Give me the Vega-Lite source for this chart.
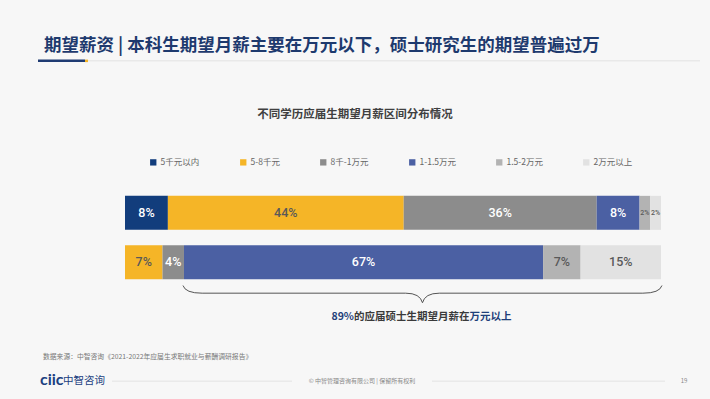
{
  "$schema": "https://vega.github.io/schema/vega-lite/v6.json",
  "width": 536,
  "height": 103,
  "autosize": {"type": "none"},
  "padding": {"left": 125, "top": 186, "right": 49, "bottom": 110},
  "background": "#f7f7f7",
  "config": {"view": {"stroke": null}, "font": "Noto Sans CJK SC"},
  "data": {"values": [
    {"edu": "本科生期望月薪", "cat": "5千元以内", "k": 1, "pct": 0.08},
    {"edu": "本科生期望月薪", "cat": "5-8千元", "k": 2, "pct": 0.44},
    {"edu": "本科生期望月薪", "cat": "8千-1万元", "k": 3, "pct": 0.36},
    {"edu": "本科生期望月薪", "cat": "1-1.5万元", "k": 4, "pct": 0.08},
    {"edu": "本科生期望月薪", "cat": "1.5-2万元", "k": 5, "pct": 0.02},
    {"edu": "本科生期望月薪", "cat": "2万元以上", "k": 6, "pct": 0.02},
    {"edu": "硕士生期望月薪", "cat": "5-8千元", "k": 2, "pct": 0.07},
    {"edu": "硕士生期望月薪", "cat": "8千-1万元", "k": 3, "pct": 0.04},
    {"edu": "硕士生期望月薪", "cat": "1-1.5万元", "k": 4, "pct": 0.67},
    {"edu": "硕士生期望月薪", "cat": "1.5-2万元", "k": 5, "pct": 0.07},
    {"edu": "硕士生期望月薪", "cat": "2万元以上", "k": 6, "pct": 0.15}
  ]},
  "layer": [
    {
      "mark": {"type": "bar"},
      "encoding": {
        "y": {"field": "edu", "type": "nominal", "sort": null, "title": null,
              "scale": {"paddingInner": 0.31, "paddingOuter": 0.2},
              "axis": {"domain": false, "ticks": false, "labelFontSize": 9, "labelColor": "#333333", "labelPadding": 10, "labelFont": "Noto Sans CJK SC", "labelFontWeight": 500}},
        "x": {"field": "pct", "type": "quantitative", "stack": "zero", "axis": null, "scale": {"domain": [0, 1], "nice": false, "zero": true}},
        "color": {"field": "cat", "type": "nominal",
          "scale": {"domain": ["5千元以内", "5-8千元", "8千-1万元", "1-1.5万元", "1.5-2万元", "2万元以上"],
                    "range": ["#123d7c", "#f5b527", "#8c8c8c", "#4b60a3", "#b3b3b3", "#e2e2e2"]},
          "legend": {"title": null, "orient": "none", "legendX": 24, "legendY": -28, "direction": "horizontal", "columns": 6,
                     "symbolType": "square", "symbolSize": 40, "symbolStrokeWidth": 0, "labelFontSize": 8.5, "labelColor": "#666666",
                     "labelOffset": 3, "columnPadding": 39, "padding": 0, "labelFont": "Noto Sans CJK SC"}},
        "order": {"field": "k", "type": "quantitative"}
      }
    },
    {
      "mark": {"type": "text", "font": "Roboto", "fontWeight": 500},
      "encoding": {
        "y": {"field": "edu", "type": "nominal", "sort": null, "title": null},
        "x": {"field": "pct", "type": "quantitative", "stack": "zero", "bandPosition": 0.5, "axis": null, "scale": {"domain": [0, 1], "nice": false, "zero": true}},
        "detail": {"field": "cat"},
        "order": {"field": "k", "type": "quantitative"},
        "text": {"field": "pct", "type": "quantitative", "format": ".0%"},
        "color": {"condition": {"test": "datum.cat == '5-8千元' || datum.cat == '1.5-2万元' || datum.cat == '2万元以上'", "value": "#595959"}, "value": "#ffffff"},
        "size": {"condition": {"test": "datum.pct < 0.03", "value": 7}, "value": 12.5}
      }
    },
    {
      "data": {"values": [{}]},
      "mark": {"type": "point", "shape": "M-1,-0.036 Q-0.99,-0.004 -0.92,-0.004 L-0.07,-0.004 Q-0.01,-0.004 0,0.036 Q0.01,-0.004 0.07,-0.004 L0.92,-0.004 Q0.99,-0.004 1,-0.036", "filled": false, "stroke": "#555555", "strokeWidth": 1, "opacity": 1, "size": 229441, "yOffset": 32},
      "encoding": {
        "x": {"datum": 0.555, "type": "quantitative", "axis": null, "scale": {"domain": [0, 1], "nice": false, "zero": true}},
        "y": {"datum": "硕士生期望月薪", "type": "nominal", "axis": null}
      }
    },
    {
      "data": {"values": [{}]},
      "mark": {"type": "text", "align": "right", "dx": -68.5, "dy": 55, "fontSize": 10.5, "fontWeight": "bold", "color": "#1f3f7a"},
      "encoding": {
        "x": {"datum": 0.555, "type": "quantitative", "axis": null, "scale": {"domain": [0, 1], "nice": false, "zero": true}},
        "y": {"datum": "硕士生期望月薪", "type": "nominal", "axis": null},
        "text": {"value": "89%"}
      }
    },
    {
      "data": {"values": [{}]},
      "mark": {"type": "text", "align": "left", "dx": -68.5, "dy": 55, "fontSize": 10.5, "fontWeight": "bold", "color": "#3a3a3a"},
      "encoding": {
        "x": {"datum": 0.555, "type": "quantitative", "axis": null, "scale": {"domain": [0, 1], "nice": false, "zero": true}},
        "y": {"datum": "硕士生期望月薪", "type": "nominal", "axis": null},
        "text": {"value": "的应届硕士生期望月薪在"}
      }
    },
    {
      "data": {"values": [{}]},
      "mark": {"type": "text", "align": "left", "dx": 47, "dy": 55, "fontSize": 10.5, "fontWeight": "bold", "color": "#1f3f7a"},
      "encoding": {
        "x": {"datum": 0.555, "type": "quantitative", "axis": null, "scale": {"domain": [0, 1], "nice": false, "zero": true}},
        "y": {"datum": "硕士生期望月薪", "type": "nominal", "axis": null},
        "text": {"value": "万元以上"}
      }
    },
    {
      "data": {"values": [{}]},
      "mark": {"type": "text", "align": "left", "dy": -167, "fontSize": 17.5, "fontWeight": "bold", "color": "#1e3a6e"},
      "encoding": {
        "x": {"datum": -0.1511, "type": "quantitative", "axis": null, "scale": {"domain": [0, 1], "nice": false, "zero": true}},
        "y": {"datum": "本科生期望月薪", "type": "nominal", "axis": null},
        "text": {"value": "期望薪资 | 本科生期望月薪主要在万元以下，硕士研究生的期望普遍过万"}
      }
    },
    {
      "data": {"values": [{}]},
      "mark": {"type": "text", "align": "center", "dy": -98, "fontSize": 11.5, "fontWeight": "bold", "color": "#404040"},
      "encoding": {
        "x": {"datum": 0.4291, "type": "quantitative", "axis": null, "scale": {"domain": [0, 1], "nice": false, "zero": true}},
        "y": {"datum": "本科生期望月薪", "type": "nominal", "axis": null},
        "text": {"value": "不同学历应届生期望月薪区间分布情况"}
      }
    },
    {
      "data": {"values": [{}]},
      "mark": {"type": "rule", "stroke": "#e3e3e3", "strokeWidth": 1, "yOffset": -152},
      "encoding": {
        "x": {"datum": -0.069, "type": "quantitative", "axis": null, "scale": {"domain": [0, 1], "nice": false, "zero": true}},
        "x2": {"datum": 1.0728},
        "y": {"datum": "本科生期望月薪", "type": "nominal", "axis": null}
      }
    },
    {
      "data": {"values": [{}]},
      "mark": {"type": "rule", "stroke": "#1f3b73", "strokeWidth": 2.5, "yOffset": -152},
      "encoding": {
        "x": {"datum": -0.1623, "type": "quantitative", "axis": null, "scale": {"domain": [0, 1], "nice": false, "zero": true}},
        "x2": {"datum": -0.0746},
        "y": {"datum": "本科生期望月薪", "type": "nominal", "axis": null}
      }
    },
    {
      "data": {"values": [{}]},
      "mark": {"type": "rule", "stroke": "#f5b527", "strokeWidth": 2.5, "yOffset": -152},
      "encoding": {
        "x": {"datum": -0.0746, "type": "quantitative", "axis": null, "scale": {"domain": [0, 1], "nice": false, "zero": true}},
        "x2": {"datum": -0.069},
        "y": {"datum": "本科生期望月薪", "type": "nominal", "axis": null}
      }
    },
    {
      "data": {"values": [{}]},
      "mark": {"type": "text", "align": "left", "dy": 95, "fontSize": 6.8, "color": "#777777"},
      "encoding": {
        "x": {"datum": -0.153, "type": "quantitative", "axis": null, "scale": {"domain": [0, 1], "nice": false, "zero": true}},
        "y": {"datum": "硕士生期望月薪", "type": "nominal", "axis": null},
        "text": {"value": "数据来源：中智咨询《2021-2022年应届生求职就业与薪酬调研报告》"}
      }
    },
    {
      "data": {"values": [{}]},
      "mark": {"type": "text", "align": "left", "dy": 118, "fontSize": 16, "fontWeight": "bold", "font": "Lato", "color": "#1c3f7f"},
      "encoding": {
        "x": {"datum": -0.1586, "type": "quantitative", "axis": null, "scale": {"domain": [0, 1], "nice": false, "zero": true}},
        "y": {"datum": "硕士生期望月薪", "type": "nominal", "axis": null},
        "text": {"value": "ciic"}
      }
    },
    {
      "data": {"values": [{}]},
      "mark": {"type": "text", "align": "left", "dy": 119, "fontSize": 10.5, "color": "#1c3f7f"},
      "encoding": {
        "x": {"datum": -0.1157, "type": "quantitative", "axis": null, "scale": {"domain": [0, 1], "nice": false, "zero": true}},
        "y": {"datum": "硕士生期望月薪", "type": "nominal", "axis": null},
        "text": {"value": "中智咨询"}
      }
    },
    {
      "data": {"values": [{}]},
      "mark": {"type": "text", "align": "center", "dy": 119, "fontSize": 6, "color": "#888888"},
      "encoding": {
        "x": {"datum": 0.4422, "type": "quantitative", "axis": null, "scale": {"domain": [0, 1], "nice": false, "zero": true}},
        "y": {"datum": "硕士生期望月薪", "type": "nominal", "axis": null},
        "text": {"value": "© 中智管理咨询有限公司 | 保留所有权利"}
      }
    },
    {
      "data": {"values": [{}]},
      "mark": {"type": "text", "align": "center", "dy": 119, "fontSize": 6, "color": "#888888"},
      "encoding": {
        "x": {"datum": 1.0429, "type": "quantitative", "axis": null, "scale": {"domain": [0, 1], "nice": false, "zero": true}},
        "y": {"datum": "硕士生期望月薪", "type": "nominal", "axis": null},
        "text": {"value": "19"}
      }
    },
    {
      "data": {"values": [{}]},
      "mark": {"type": "rule", "stroke": "#dddddd", "strokeWidth": 0.8, "yOffset": 119},
      "encoding": {
        "x": {"datum": -0.0243, "type": "quantitative", "axis": null, "scale": {"domain": [0, 1], "nice": false, "zero": true}},
        "x2": {"datum": 0.3116},
        "y": {"datum": "硕士生期望月薪", "type": "nominal", "axis": null}
      }
    },
    {
      "data": {"values": [{}]},
      "mark": {"type": "rule", "stroke": "#dddddd", "strokeWidth": 0.8, "yOffset": 119},
      "encoding": {
        "x": {"datum": 0.5728, "type": "quantitative", "axis": null, "scale": {"domain": [0, 1], "nice": false, "zero": true}},
        "x2": {"datum": 1.0075},
        "y": {"datum": "硕士生期望月薪", "type": "nominal", "axis": null}
      }
    }
  ]
}
